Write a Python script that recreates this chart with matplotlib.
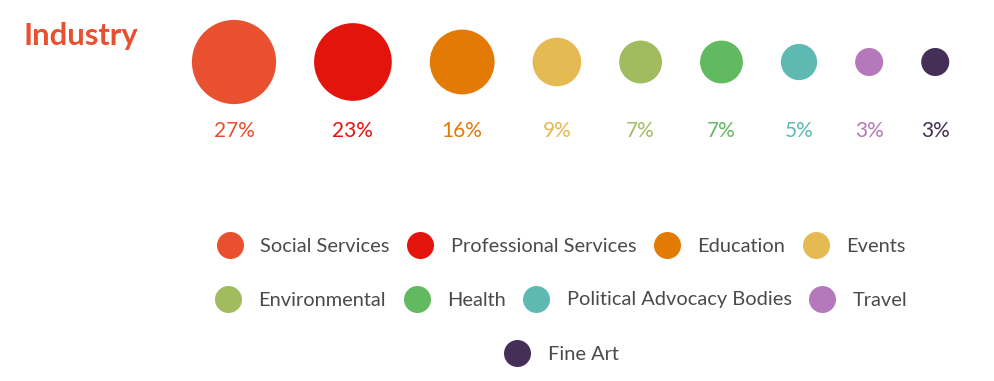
import matplotlib
matplotlib.use("Agg")
import matplotlib.pyplot as plt
import numpy as np
from matplotlib.textpath import TextPath
from matplotlib.font_manager import FontProperties

categories = ["Social Services", "Professional Services", "Education", "Events",
              "Environmental", "Health", "Political Advocacy Bodies", "Travel", "Fine Art"]
shares = [27, 23, 16, 9, 7, 7, 5, 3, 3]
colors = ["#E8502F", "#E2140C", "#E37A03", "#E6BA52", "#A1BC5E",
          "#62BA60", "#5FB9B3", "#B578BA", "#452E57"]
legend_rows = [4, 4, 1]

FONT = "Lato"
plt.rcParams["font.family"] = [FONT, "DejaVu Sans"]


def fit_size(s, target_px, weight="normal"):
    # font size (pt) that makes string s about target_px wide at 100 dpi
    w = TextPath((0, 0), s, size=10, prop=FontProperties(family=FONT, weight=weight)).get_extents().width
    return 10 * target_px * 0.72 / w


fig = plt.figure(figsize=(9.95, 3.81), dpi=100)
ax = fig.add_axes([0, 0, 1, 1])
ax.set_xlim(0, 995)
ax.set_ylim(381, 0)
ax.axis("off")

# title
ax.text(23, 45, "Industry", color="#E8502F", fontweight="bold",
        fontsize=fit_size("Industry", 112, "bold"), ha="left", va="baseline")

# bubbles, diameter ~ sqrt(share), fixed gap between edges
diam = 16.2 * np.sqrt(shares)
xs = [234.0]
for i in range(1, len(shares)):
    xs.append(xs[-1] + diam[i - 1] / 2 + diam[i] / 2 + 38)
ax.scatter(xs, [62] * len(xs), s=(diam * 0.72) ** 2, c=colors, linewidths=0)

pct_size = fit_size("27%", 39)
for x, v, c in zip(xs, shares, colors):
    ax.text(x, 137, f"{v}%", color=c, fontsize=pct_size, ha="center", va="baseline")

# legend, flow layout centred on the page
leg_size = fit_size("Political Advocacy Bodies", 222)
fig.canvas.draw()
renderer = fig.canvas.get_renderer()
idx = 0
for r, n in enumerate(legend_rows):
    y = 245 + r * 54
    items = list(range(idx, idx + n))
    idx += n
    texts = [ax.text(0, y + 1, categories[i], color="#4a4a4a", fontsize=leg_size,
                     ha="left", va="center") for i in items]
    widths = [t.get_window_extent(renderer).width for t in texts]
    total = n * (27 + 17) + sum(widths) + 17 * (n - 1)
    x = 561 - total / 2
    for i, t, w in zip(items, texts, widths):
        ax.scatter([x + 13.5], [y], s=(27 * 0.72) ** 2, color=colors[i], linewidths=0)
        t.set_x(x + 27 + 17)
        x += 27 + 17 + w + 17

fig.savefig("out.png", dpi=100)
